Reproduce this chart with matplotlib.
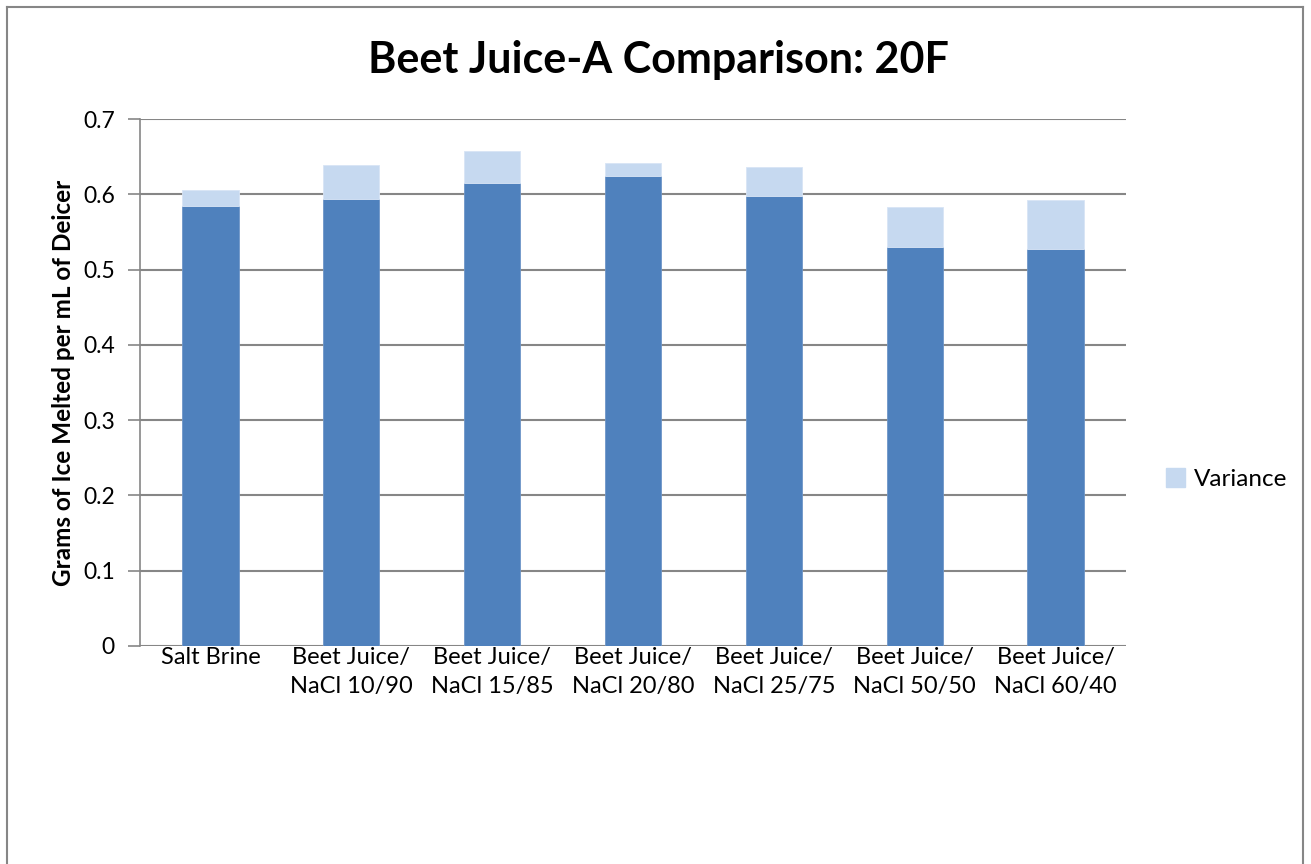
import numpy as np
import matplotlib.pyplot as plt
from matplotlib.lines import Line2D
from matplotlib.patches import Patch

# data
categories = ['Salt Brine', 'Beet Juice/\nNaCl 10/90', 'Beet Juice/\nNaCl 15/85',
              'Beet Juice/\nNaCl 20/80', 'Beet Juice/\nNaCl 25/75',
              'Beet Juice/\nNaCl 50/50', 'Beet Juice/\nNaCl 60/40']
melted = [0.584, 0.594, 0.615, 0.624, 0.598, 0.530, 0.527]
variance = [0.022, 0.045, 0.043, 0.018, 0.038, 0.053, 0.065]
yticks = [0, 0.1, 0.2, 0.3, 0.4, 0.5, 0.6, 0.7]

dark = '#4F81BD'
light = '#C6D9F0'
grid = '#868686'

plt.rcParams['font.family'] = ['Lato', 'DejaVu Sans']

W, H = 1311, 864
fig = plt.figure(figsize=(W / 100, H / 100), dpi=100)
ax = fig.add_axes([140 / W, 1 - 646 / H, (1126 - 140) / W, (646 - 119) / H])

x = np.arange(len(categories))
ax.bar(x, melted, width=0.4, color=dark, edgecolor='#6E96C8', linewidth=0.6, zorder=3)
ax.bar(x, variance, width=0.4, bottom=melted, color=light, edgecolor='#D8E4F5',
       linewidth=0.6, zorder=3)

ax.set_xlim(-0.5, len(categories) - 0.5)
ax.set_ylim(0, 0.7)
ax.set_yticks(yticks)
ax.set_yticklabels(['0', '0.1', '0.2', '0.3', '0.4', '0.5', '0.6', '0.7'], fontsize=16.5)
ax.set_xticks(x)
ax.set_xticklabels(categories, fontsize=17, linespacing=1.45, va='top')
ax.tick_params(axis='x', length=0, pad=1)
ax.tick_params(axis='y', length=9, width=1.2, color=grid, pad=9)

ax.yaxis.grid(True, color=grid, linewidth=1.5, zorder=0)
for s in ['top', 'right', 'bottom']:
    ax.spines[s].set_visible(False)
ax.spines['left'].set_color(grid)
ax.spines['left'].set_linewidth(1.2)

ax.set_ylabel('Grams of Ice Melted per mL of Deicer', fontsize=17.5, fontweight='bold',
              labelpad=6)
fig.text(658 / W, 1 - 60 / H, 'Beet Juice-A Comparison: 20F', fontsize=31,
         fontweight='bold', ha='center', va='center')

fig.legend(handles=[Patch(facecolor=light, edgecolor=light, label='Variance')],
           loc='center left', bbox_to_anchor=(1166 / W, 1 - 479 / H), frameon=False,
           fontsize=17.5, handlelength=0.8, handleheight=0.8, handletextpad=0.35,
           borderpad=0, borderaxespad=0)

# outer chart border
bx0, by0, bx1 = 7 / W, 1 - 7 / H, 1303 / W
for xs, ys in [([bx0, bx0], [0, by0]), ([bx0, bx1], [by0, by0]), ([bx1, bx1], [0, by0])]:
    fig.add_artist(Line2D(xs, ys, color='#868686', linewidth=1.5, transform=fig.transFigure))

fig.savefig('out.png', dpi=100)
